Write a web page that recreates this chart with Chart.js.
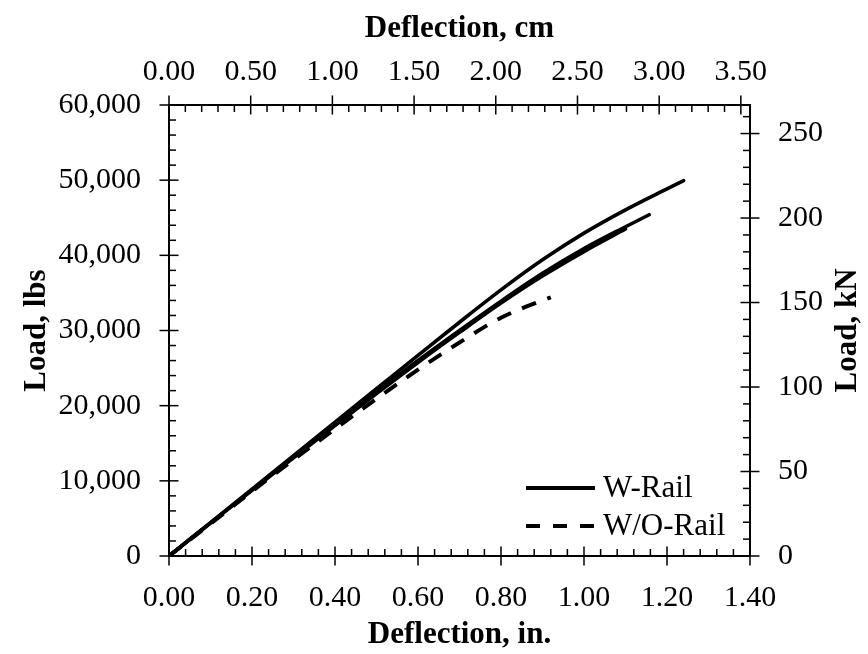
<!DOCTYPE html>
<html>
<head>
<meta charset="utf-8">
<script src="https://cdn.jsdelivr.net/npm/chart.js@4/dist/chart.umd.min.js"></script>
<style>
  html, body { margin: 0; padding: 0; background: #ffffff; }
  canvas { display: block; }
</style>
</head>
<body>
<canvas id="c" width="868" height="654"></canvas>
<script>
// ---- Data (deflection in inches, load in lbs) ----
const wRail1Defl = [0, 0.1, 0.2, 0.3, 0.4, 0.5, 0.6, 0.7, 0.8, 0.9, 1.0, 1.1, 1.2, 1.24];
const wRail1Load = [0, 4450, 8900, 13350, 17800, 22250, 26700, 31100, 35400, 39400, 42950, 46050, 48850, 49950];

const wRail2Defl = [0, 0.1, 0.2, 0.3, 0.4, 0.5, 0.6, 0.7, 0.8, 0.9, 1.0, 1.1, 1.157];
const wRail2Load = [0, 4400, 8800, 13150, 17500, 21800, 26000, 30000, 33900, 37600, 40900, 43800, 45400];

const wRail3Defl = [0, 0.1, 0.2, 0.3, 0.4, 0.5, 0.6, 0.7, 0.8, 0.9, 1.0, 1.1];
const wRail3Load = [0, 4380, 8750, 13050, 17350, 21600, 25750, 29750, 33650, 37250, 40500, 43500];

const woRailDefl = [0, 0.1, 0.2, 0.3, 0.4, 0.5, 0.6, 0.7, 0.8, 0.9, 0.92];
const woRailLoad = [0, 4300, 8600, 12800, 16900, 20900, 24800, 28400, 31700, 34000, 34400];

// ---- Tick labels ----
const ticksDeflIn = [0, 0.2, 0.4, 0.6, 0.8, 1.0, 1.2, 1.4];
const ticksDeflCm = [0, 0.5, 1.0, 1.5, 2.0, 2.5, 3.0, 3.5];
const ticksLoadLbs = [0, 10000, 20000, 30000, 40000, 50000, 60000];
const ticksLoadKN = [0, 50, 100, 150, 200, 250];

const legendLabels = ['W-Rail', 'W/O-Rail'];

const IN_TO_CM = 2.54;
const LBS_TO_KN = 0.00444822;
const X_MAX_IN = 1.4;
const Y_MAX_LBS = 60000;

const SERIF = '"Liberation Serif", "Times New Roman", "DejaVu Serif", serif';
const tickFont = { family: SERIF, size: 30 };
const titleFont = { family: SERIF, size: 31, weight: 'bold' };

function pts(xs, ys) { return xs.map((x, i) => ({ x: x, y: ys[i] })); }

const lineBase = {
  xAxisID: 'x', yAxisID: 'y',
  borderColor: '#000000', backgroundColor: '#000000',
  borderWidth: 3.6, pointRadius: 0, fill: false,
  cubicInterpolationMode: 'monotone',
  borderCapStyle: 'round', borderJoinStyle: 'round'
};

const datasets = [
  Object.assign({}, lineBase, { label: 'W-Rail', data: pts(wRail1Defl, wRail1Load) }),
  Object.assign({}, lineBase, { label: 'W-Rail 2', data: pts(wRail2Defl, wRail2Load) }),
  Object.assign({}, lineBase, { label: 'W-Rail 3', data: pts(wRail3Defl, wRail3Load) }),
  Object.assign({}, lineBase, { label: 'W/O-Rail', data: pts(woRailDefl, woRailLoad),
    borderWidth: 4, borderDash: [15, 12], borderCapStyle: 'butt' })
];

function axisCommon(ticksArr, fmt, pad) {
  return {
    type: 'linear',
    afterBuildTicks: s => { s.ticks = ticksArr.map(v => ({ value: v })); },
    ticks: { callback: fmt, font: tickFont, color: '#000000', padding: pad,
             autoSkip: false, maxRotation: 0, minRotation: 0 },
    grid: { display: false, drawTicks: false },
    border: { display: true, color: '#000000', width: 2 }
  };
}

const scales = {
  x: Object.assign(axisCommon(ticksDeflIn, v => Number(v).toFixed(2), 24), {
    position: 'bottom', min: 0, max: X_MAX_IN,
    title: { display: true, text: 'Deflection, in.', font: titleFont, color: '#000000', padding: { top: 0, bottom: 0 } },
    afterFit: s => { s.height = 98; }
  }),
  x2: Object.assign(axisCommon(ticksDeflCm, v => Number(v).toFixed(2), 15), {
    position: 'top', min: 0, max: X_MAX_IN * IN_TO_CM,
    title: { display: true, text: 'Deflection, cm', font: titleFont, color: '#000000', padding: { top: 10, bottom: 0 } },
    afterFit: s => { s.height = 105; }
  }),
  y: Object.assign(axisCommon(ticksLoadLbs, v => Number(v).toLocaleString('en-US'), 28), {
    position: 'left', min: 0, max: Y_MAX_LBS,
    title: { display: true, text: 'Load, lbs', font: titleFont, color: '#000000', padding: { top: 18, bottom: 0 } },
    afterFit: s => { s.width = 169; }
  }),
  y2: Object.assign(axisCommon(ticksLoadKN, v => String(v), 28), {
    position: 'right', min: 0, max: Y_MAX_LBS * LBS_TO_KN,
    title: { display: false },
    afterFit: s => { s.width = 118; }
  })
};

const tickMarks = {
  id: 'tickMarks',
  afterDraw(chart) {
    const ctx = chart.ctx;
    const a = chart.chartArea;
    const s = chart.scales;
    ctx.save();
    ctx.strokeStyle = '#000000';
    ctx.lineWidth = 1.5;
    const MAJ = 9.5, MIN = 7;
    function seg(x1, y1, x2, y2) { ctx.beginPath(); ctx.moveTo(x1, y1); ctx.lineTo(x2, y2); ctx.stroke(); }
    // bottom axis (inches): minor every 0.04
    for (let i = 0; i <= 35; i++) {
      const px = s.x.getPixelForValue(i * 0.04);
      if (i % 5 === 0) seg(px, a.bottom - MAJ, px, a.bottom + MAJ);
      else seg(px, a.bottom, px, a.bottom - MIN);
    }
    // top axis (cm): minor every 0.1
    for (let i = 0; i <= 35; i++) {
      const px = s.x2.getPixelForValue(i * 0.1);
      if (i % 5 === 0) seg(px, a.top - MAJ, px, a.top + MAJ);
      else seg(px, a.top, px, a.top + MIN);
    }
    // left axis (lbs): minor every 2000
    for (let i = 0; i <= 30; i++) {
      const py = s.y.getPixelForValue(i * 2000);
      if (i % 5 === 0) seg(a.left - MAJ, py, a.left + MAJ, py);
      else seg(a.left, py, a.left + MIN, py);
    }
    // right axis (kN): minor every 10
    for (let i = 0; i <= 26; i++) {
      const py = s.y2.getPixelForValue(i * 10);
      if (i % 5 === 0) seg(a.right - MAJ, py, a.right + MAJ, py);
      else seg(a.right, py, a.right - MIN, py);
    }

    // right axis title, reading bottom-to-top
    ctx.fillStyle = '#000000';
    ctx.font = 'bold 31px ' + SERIF;
    ctx.textAlign = 'center';
    ctx.textBaseline = 'middle';
    ctx.translate(848, (a.top + a.bottom) / 2);
    ctx.rotate(-Math.PI / 2);
    ctx.fillText('Load, kN', 0, 0);
    ctx.restore();

    // legend
    ctx.save();
    const lx0 = a.right - 224, lx1 = a.right - 155, tx = a.right - 147;
    const rows = [a.bottom - 68, a.bottom - 30];
    ctx.strokeStyle = '#000000';
    ctx.lineWidth = 4;
    ctx.lineCap = 'butt';
    ctx.setLineDash([]);
    seg(lx0, rows[0], lx1, rows[0]);
    ctx.setLineDash([14, 13]);
    seg(lx0, rows[1], lx1, rows[1]);
    ctx.setLineDash([]);
    ctx.fillStyle = '#000000';
    ctx.font = '31px ' + SERIF;
    ctx.textAlign = 'left';
    ctx.textBaseline = 'middle';
    ctx.fillText(legendLabels[0], tx, rows[0] + 1);
    ctx.fillText(legendLabels[1], tx, rows[1] + 1);
    ctx.restore();
  }
};

new Chart(document.getElementById('c'), {
  type: 'line',
  data: { datasets: datasets },
  options: {
    responsive: false,
    animation: false,
    layout: { padding: 0 },
    plugins: { legend: { display: false }, tooltip: { enabled: false } },
    scales: scales
  },
  plugins: [tickMarks]
});
</script>
</body>
</html>
